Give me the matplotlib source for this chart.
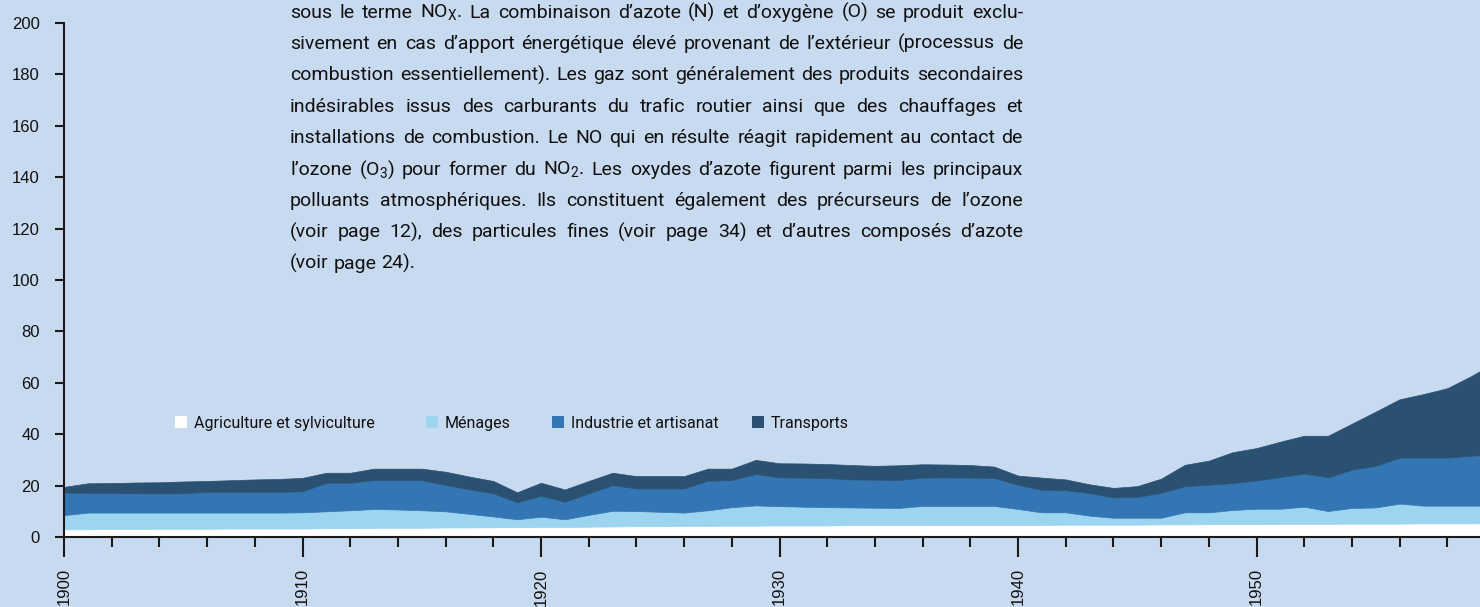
import matplotlib
matplotlib.use("Agg")
import matplotlib.pyplot as plt
from matplotlib.patches import Rectangle
from matplotlib.ticker import MultipleLocator

# NOx emissions by sector (kt per year)
years = list(range(1900, 1961))
agriculture = [3.0, 3.0, 3.1, 3.1, 3.2, 3.2, 3.2, 3.3, 3.3, 3.3,
               3.3, 3.4, 3.4, 3.5, 3.6, 3.6, 3.7, 3.7, 3.8, 3.8,
               3.9, 3.9, 4.0, 4.1, 4.2, 4.2, 4.3, 4.3, 4.4, 4.4,
               4.5, 4.5, 4.5, 4.6, 4.6, 4.6, 4.7, 4.7, 4.7, 4.7,
               4.7, 4.7, 4.8, 4.8, 4.8, 4.8, 4.9, 4.9, 5.0, 5.0,
               5.0, 5.1, 5.1, 5.1, 5.2, 5.2, 5.2, 5.3, 5.3, 5.3,
               5.4]
menages = [5.5, 6.5, 6.4, 6.4, 6.3, 6.3, 6.3, 6.2, 6.2, 6.2,
           6.3, 6.6, 7.0, 7.4, 7.1, 6.8, 6.3, 5.3, 4.2, 3.1,
           4.0, 3.0, 4.6, 6.1, 5.9, 5.6, 5.2, 6.1, 7.2, 7.9,
           7.5, 7.3, 7.1, 6.9, 6.8, 6.7, 7.4, 7.4, 7.4, 7.4,
           6.2, 4.9, 4.8, 3.5, 2.7, 2.7, 2.6, 4.7, 4.6, 5.5,
           6.0, 5.9, 6.7, 5.0, 6.1, 6.3, 7.8, 6.9, 6.9, 6.9,
           6.8]
industrie = [8.8, 7.7, 7.6, 7.5, 7.5, 7.5, 8.1, 8.1, 8.1, 8.1,
             8.2, 11.1, 10.7, 11.3, 11.5, 11.8, 10.2, 9.5, 9.0, 6.6,
             8.2, 6.8, 8.4, 10.0, 8.8, 9.1, 9.4, 11.5, 10.6, 12.2,
             11.2, 11.3, 11.3, 10.9, 10.9, 10.9, 11.0, 11.1, 11.0, 10.9,
             9.4, 8.7, 8.6, 8.8, 7.9, 8.1, 9.7, 10.2, 10.7, 10.5,
             11.0, 12.3, 12.9, 13.1, 14.9, 16.2, 17.9, 18.7, 18.7, 19.4,
             20.0]
transports = [2.2, 3.7, 3.9, 4.2, 4.3, 4.6, 4.2, 4.5, 4.8, 5.0,
              5.2, 3.9, 3.9, 4.4, 4.4, 4.4, 5.2, 5.0, 4.8, 3.9,
              5.0, 4.8, 4.8, 4.8, 4.8, 4.8, 4.8, 4.7, 4.4, 5.5,
              5.5, 5.5, 5.5, 5.6, 5.4, 5.7, 5.2, 5.0, 4.9, 4.4,
              3.6, 4.8, 4.2, 3.4, 3.7, 4.2, 5.5, 8.3, 9.4, 12.0,
              12.6, 13.8, 14.7, 16.2, 17.9, 21.1, 22.7, 24.7, 27.0, 31.0,
              35.7]

labels = ["Agriculture et sylviculture", "Ménages", "Industrie et artisanat", "Transports"]
colors = ["#ffffff", "#9dd4f0", "#3476b3", "#2a5172"]
bg = "#c8daef"

body_lines = [
    "sous le terme NO$_\\mathregular{X}$. La combinaison d’azote (N) et d’oxygène (O) se produit exclu-",
    "sivement en cas d’apport énergétique élevé provenant de l’extérieur (processus de",
    "combustion essentiellement). Les gaz sont généralement des produits secondaires",
    "indésirables issus des carburants du trafic routier ainsi que des chauffages et",
    "installations de combustion. Le NO qui en résulte réagit rapidement au contact de",
    "l’ozone (O$_\\mathregular{3}$) pour former du NO$_\\mathregular{2}$. Les oxydes d’azote figurent parmi les principaux",
    "polluants atmosphériques. Ils constituent également des précurseurs de l’ozone",
    "(voir page 12), des particules fines (voir page 34) et d’autres composés d’azote",
    "(voir page 24).",
]

W, H = 1480, 607
text_font = "Roboto"
tick_font = "Liberation Sans"

fig = plt.figure(figsize=(W / 100, H / 100), dpi=100, facecolor=bg)
ax = fig.add_axes([64 / W, 70 / H, 1 - 64 / W, (537 - 23) / H])
ax.set_facecolor(bg)

polys = ax.stackplot(years, agriculture, menages, industrie, transports, colors=colors)
for p, c in zip(polys, colors):
    p.set_edgecolor(c)
    p.set_linewidth(0.5)

ax.set_xlim(1900, 1900 + (W - 64) / 23.85)
ax.set_ylim(0, 200)

for s in ["top", "right"]:
    ax.spines[s].set_visible(False)
for s in ["left", "bottom"]:
    ax.spines[s].set_linewidth(1.5)
    ax.spines[s].set_color("#1a1a1a")
    ax.spines[s].set_zorder(5)

ax.set_yticks(range(0, 201, 20))
ax.set_xticks(range(1900, 1960, 10))
ax.xaxis.set_minor_locator(MultipleLocator(2))
ax.tick_params(axis="y", length=6.5, width=1.5, pad=11, labelsize=12, color="#1a1a1a")
ax.tick_params(axis="x", which="major", length=14.5, width=1.5, pad=8, labelsize=12,
               labelrotation=90, color="#1a1a1a")
ax.tick_params(axis="x", which="minor", length=7.2, width=1.5, color="#1a1a1a")
for lab in ax.get_xticklabels() + ax.get_yticklabels():
    lab.set_fontfamily(tick_font)
    lab.set_color("#111111")

renderer = fig.canvas.get_renderer()


def text_width(s, size):
    t = fig.text(0, 0, s, fontsize=size, family=text_font)
    w = t.get_window_extent(renderer).width
    t.remove()
    return w


# legend, drawn by hand to keep the uneven spacing of the original
legend_x = [175, 426, 552, 752]
legend_y = 422
legend_size = 10.5 * 181 / text_width(labels[0], 10.5)
for lx, lab, c in zip(legend_x, labels, colors):
    fig.patches.append(Rectangle((lx / W, 1 - (legend_y + 6) / H), 12 / W, 12 / H,
                                 transform=fig.transFigure, facecolor=c, edgecolor="none"))
    fig.text((lx + 19) / W, 1 - legend_y / H, lab, fontsize=legend_size, family=text_font,
             color="#111111", va="center_baseline", ha="left")

# justified body text
left, right = 290, 1023
first_base, gap = 17.5, 31.4
size = 14.0
space = text_width("a a", size) - text_width("aa", size)
natural = []
for line in body_lines:
    words = line.split(" ")
    natural.append(sum(text_width(w, size) for w in words) + space * (len(words) - 1))
if max(natural) > (right - left):
    size = size * (right - left) / max(natural) * 0.99
    space = text_width("a a", size) - text_width("aa", size)

for i, line in enumerate(body_lines):
    words = line.split(" ")
    widths = [text_width(w, size) for w in words]
    if i < len(body_lines) - 1 and len(words) > 1:
        sp = (right - left - sum(widths)) / (len(words) - 1)
    else:
        sp = space
    x = left
    yb = first_base + i * gap
    for w, wd in zip(words, widths):
        fig.text(x / W, 1 - yb / H, w, fontsize=size, family=text_font,
                 color="#111111", va="baseline", ha="left")
        x += wd + sp

fig.savefig("out.png", dpi=100, facecolor=bg)
